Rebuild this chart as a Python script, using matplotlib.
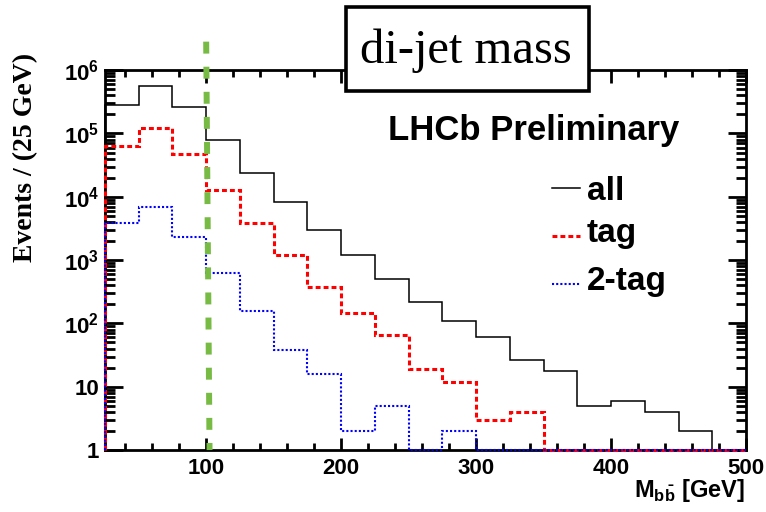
import matplotlib
matplotlib.use('Agg')
import matplotlib.pyplot as plt
from matplotlib.patches import Rectangle
from matplotlib.ticker import FixedLocator, NullFormatter, LogLocator
import numpy as np

# bin edges of the di-jet mass histogram (25 GeV bins)
edges = list(range(25, 501, 25))
# events per bin
all_counts = [2.8e5, 5.6e5, 2.6e5, 8.0e4, 2.4e4, 8.3e3, 3.0e3, 1.2e3, 5.1e2, 2.2e2,
              1.08e2, 60, 26, 18, 5, 6, 4, 2, 1]
tag_counts = [6.4e4, 1.2e5, 4.7e4, 1.3e4, 3.9e3, 1.2e3, 3.7e2, 1.45e2, 66, 19,
              12, 3, 4, 1, 1, 1, 1, 1, 1]
twotag_counts = [3.8e3, 7.0e3, 2.3e3, 6.2e2, 1.56e2, 38, 16, 2, 5, 1,
                 2, 1, 1, 1, 1, 1, 1, 1, 1]
series_labels = ['all', 'tag', '2-tag']
y_ticks = [1, 10, 100, 1e3, 1e4, 1e5, 1e6]
y_ticklabels = ['1', '10', r'$\mathbf{10^2}$', r'$\mathbf{10^3}$', r'$\mathbf{10^4}$',
                r'$\mathbf{10^5}$', r'$\mathbf{10^6}$']
cut_value = 101.5

sans = 'Liberation Sans'
serif = 'Liberation Serif'
plt.rcParams['mathtext.fontset'] = 'custom'
plt.rcParams['mathtext.rm'] = sans
plt.rcParams['mathtext.bf'] = sans + ':bold'

W, H = 766, 512
fig = plt.figure(figsize=(W / 100, H / 100), dpi=100)
ax = fig.add_axes([0.137, 0.121, 0.837, 0.742])

styles = [dict(color='black', lw=1.1, linestyle='-'),
          dict(color='red', lw=2.2, linestyle=(0, (1.6, 1.0))),
          dict(color='blue', lw=1.5, linestyle=(0, (1, 1)))]
for counts, st in zip([all_counts, tag_counts, twotag_counts], styles):
    # drawn over the frame so the bins at 1 show along the axis, as in ROOT
    ax.stairs(counts, edges, baseline=1, zorder=3, clip_on=False, **st)

# green cut line, reaches above the frame
ax.plot([cut_value - 1.5, cut_value + 1.0], [10 ** 6.45, 1], color='#77bb44', lw=4.3,
        dashes=(2.0, 2.2), clip_on=False, zorder=5)

ax.set_yscale('log')
ax.set_xlim(25, 500)
ax.set_ylim(1, 1e6)

ax.yaxis.set_major_locator(FixedLocator(y_ticks))
ax.set_yticklabels(y_ticklabels)
ax.yaxis.set_minor_locator(LogLocator(base=10, subs=np.arange(2, 10)))
ax.yaxis.set_minor_formatter(NullFormatter())
ax.set_xticks([100, 200, 300, 400, 500])
ax.set_xticks(np.arange(40, 500, 20), minor=True)

for lab in ax.get_xticklabels() + ax.get_yticklabels():
    lab.set_fontfamily(sans)
    lab.set_fontweight('bold')
    lab.set_fontsize(16)

ax.tick_params(which='both', direction='in', top=True, right=True, width=2)
ax.tick_params(axis='y', which='major', length=13, pad=4)
ax.tick_params(axis='y', which='minor', length=7)
ax.tick_params(axis='x', which='major', length=9, pad=6)
ax.tick_params(axis='x', which='minor', length=5)
for s in ax.spines.values():
    s.set_linewidth(2)

fig.text(26 / W, 1 - 157 / H, 'Events / (25 GeV)', rotation=90, ha='center', va='center',
         family=serif, fontweight='bold', fontsize=20)
fig.text(745 / W, 1 - 497 / H, r'M$_{\mathbf{b\bar{b}}}$ [GeV]', ha='right', va='baseline',
         family=sans, fontweight='bold', fontsize=17)

# title box
fig.patches.append(Rectangle((346 / W, 1 - 91 / H), 243 / W, 84 / H, transform=fig.transFigure,
                             fc='white', ec='black', lw=2.6, zorder=9))
fig.text(466 / W, 1 - 63 / H, 'di-jet mass', ha='center', va='baseline', family=serif,
         fontsize=35, zorder=10)
fig.text(534 / W, 1 - 140 / H, 'LHCb Preliminary', ha='center', va='baseline', family=sans,
         fontweight='bold', fontsize=25)

# legend entries
handle_y = [188, 236, 284]
text_base = [200, 242, 290]
for lab, st, hy, ty in zip(series_labels, styles, handle_y, text_base):
    ax.plot([552 / W, 580 / W], [1 - hy / H, 1 - hy / H], transform=fig.transFigure,
            clip_on=False, **st)
    fig.text(587 / W, 1 - ty / H, lab, ha='left', va='baseline', family=sans,
             fontweight='bold', fontsize=24)

fig.savefig('out.png', dpi=100)
